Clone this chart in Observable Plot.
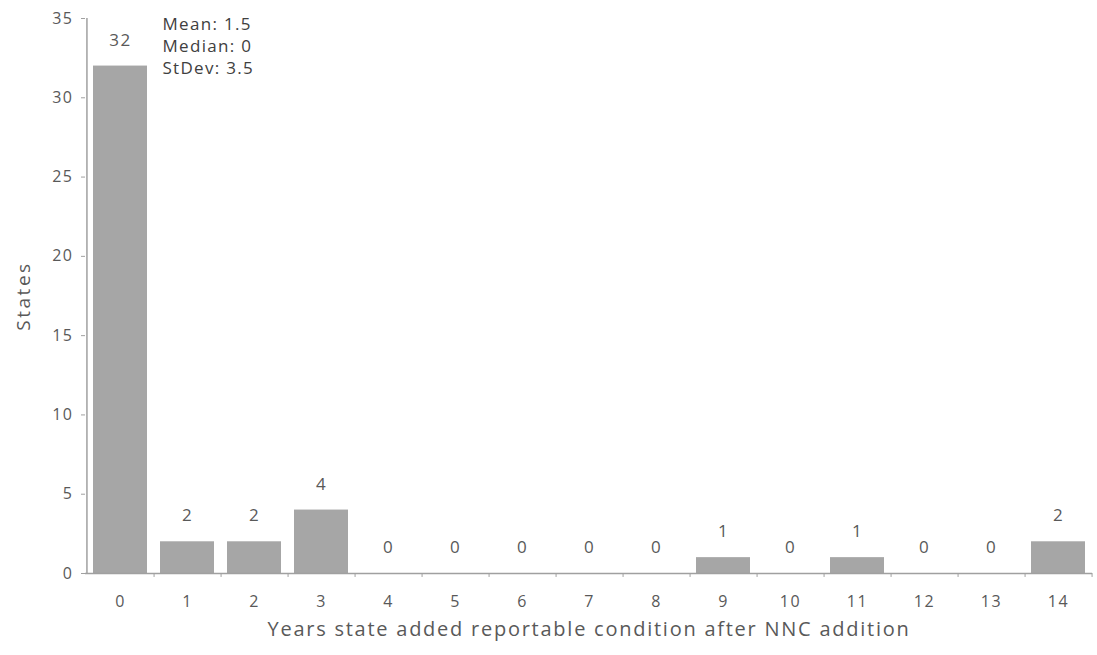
<!DOCTYPE html>
<html>
<head>
<meta charset="utf-8">
<script src="https://cdn.jsdelivr.net/npm/d3@7"></script>
<script src="https://cdn.jsdelivr.net/npm/@observablehq/plot@0.6"></script>
<style>
body { margin: 0; background: #fff; }
#chart svg { font-family: "Open Sans", "Liberation Sans", sans-serif; }
#chart g[aria-label="x-axis tick label"] text { letter-spacing: 1.5px; }
#chart g[aria-label="y-axis tick label"] text { letter-spacing: 1.5px; }
</style>
</head>
<body>
<div id="chart"></div>
<script>
const years = [0,1,2,3,4,5,6,7,8,9,10,11,12,13,14];
const states = [32,2,2,4,0,0,0,0,0,1,0,1,0,0,2];
const yTicks = [0,5,10,15,20,25,30,35];
const statsText = "Mean: 1.5\nMedian: 0\nStDev: 3.5";
const xTitle = "Years state added reportable condition after NNC addition";
const yTitle = "States";

const cats = years.map(String);
const data = years.map((y, i) => ({year: String(y), value: states[i]}));
const textColor = "#595959";
const lineColor = "#a0a0a0";
const half = (1092 - 85) / 15 / 2;

const chart = Plot.plot({
  width: 1097,
  height: 655,
  marginLeft: 85,
  marginRight: 5,
  marginTop: 18,
  marginBottom: 82,
  style: {fontSize: "15px", color: textColor, background: "#fff"},
  x: {domain: cats, paddingInner: 0.2, paddingOuter: 0.1, align: 0.5, label: null},
  y: {domain: [0, 35], ticks: yTicks, label: null},
  marks: [
    Plot.barY(data, {x: "year", y: "value", fill: "#a6a6a6"}),
    Plot.ruleY([0], {stroke: lineColor, strokeWidth: 1.5}),
    Plot.ruleX([cats[0]], {x: d => d, dx: -half, y1: 0, y2: 35, stroke: lineColor, strokeWidth: 1.5}),
    Plot.ruleX(cats, {x: d => d, dx: half, y1: 0, y2: -0.25, stroke: lineColor}),
    Plot.axisY({ticks: yTicks, tickSize: 4, tickPadding: 8, stroke: lineColor, fill: textColor, fontSize: 16, label: null}),
    Plot.axisX({tickSize: 0, tickPadding: 22, fill: textColor, fontSize: 16, label: null}),
    Plot.text(data, {x: "year", y: "value", text: d => String(d.value), dy: -26, fill: textColor, fontSize: 17}),
    Plot.text([statsText], {frameAnchor: "top-left", dx: 77, dy: -4, lineAnchor: "top", lineHeight: 1.3, text: d => d, textAnchor: "start", fill: "#404040", fontSize: 17}),
    Plot.text([yTitle], {x: () => cats[0], y: () => 17.5, dx: -half - 63, rotate: -90, text: d => d, fill: textColor, fontSize: 19}),
    Plot.text([xTitle], {frameAnchor: "bottom", dy: 62, text: d => d, fill: textColor, fontSize: 20})
  ]
});
document.getElementById("chart").appendChild(chart);

// letter spacing for the text marks, in mark order: value labels, stats, y title, x title
const textSpacing = ["1.5px", "1.3px", "2.5px", "1.75px"];
d3.select(chart).selectAll('g[aria-label="text"]').each(function(_, i) {
  d3.select(this).selectAll("text, tspan").style("letter-spacing", textSpacing[i] || null);
});
</script>
</body>
</html>
